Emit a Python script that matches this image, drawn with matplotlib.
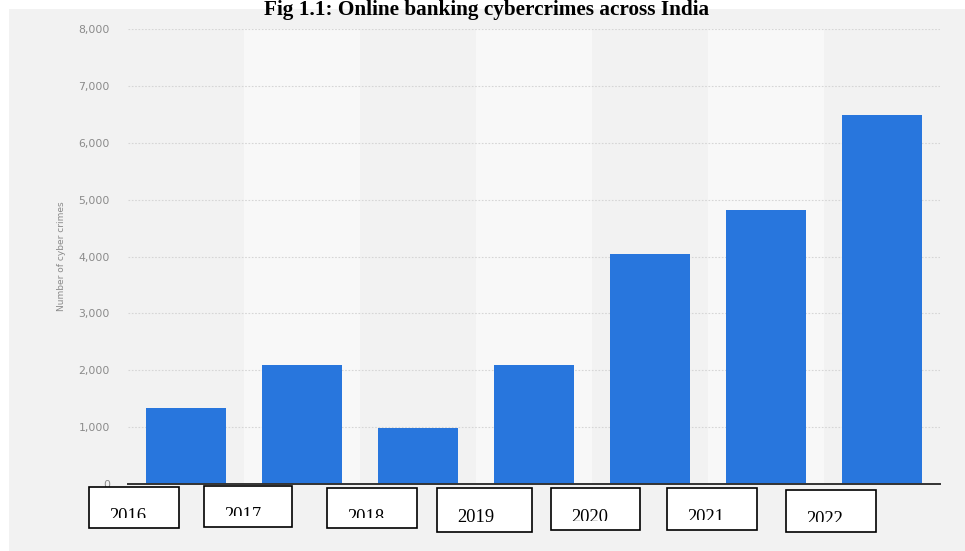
import matplotlib
matplotlib.use("Agg")
import matplotlib.pyplot as plt
from matplotlib.patches import Rectangle
from matplotlib.transforms import Bbox, TransformedBbox

years = ["2016", "2017", "2018", "2019", "2020", "2021", "2022"]
crimes = [1343, 2095, 978, 2093, 4047, 4823, 6491]
yticks = [0, 1000, 2000, 3000, 4000, 5000, 6000, 7000, 8000]
title = "Fig 1.1: Online banking cybercrimes across India"
ylabel = "Number of cyber crimes"

W, H = 965, 551
fig = plt.figure(figsize=(W / 100, H / 100), dpi=100)
fig.patch.set_facecolor("white")

def fx(x):
    return x / W

def fy(y):
    return 1 - y / H

# grey panel background
fig.patches.append(Rectangle((fx(9), 0), 1 - fx(9), fy(9), transform=fig.transFigure,
                             facecolor="#f2f2f2", edgecolor="none", zorder=-10))

ax = fig.add_axes([fx(128), fy(484), fx(940) - fx(128), fy(29) - fy(484)])
ax.set_zorder(1)
ax.set_facecolor("none")
ax.set_xlim(-0.5, len(years) - 0.5)
ax.set_ylim(0, 8000)

for i in range(len(years)):
    if i % 2 == 1:
        ax.axvspan(i - 0.5, i + 0.5, color="#f8f8f8", zorder=0, lw=0)

for t in yticks[1:]:
    ax.axhline(t, color="#d6d6d6", lw=0.8, ls=(0, (1.5, 1.5)), zorder=1)

ax.bar(range(len(years)), crimes, width=0.69, color="#2876dd", zorder=2)

for s in ["top", "right", "left"]:
    ax.spines[s].set_visible(False)
ax.spines["bottom"].set_color("#333333")
ax.spines["bottom"].set_linewidth(1.4)
ax.spines["bottom"].set_zorder(3)
ax.set_xticks([])
ax.set_yticks(yticks)
ax.set_yticklabels([f"{v:,}" for v in yticks], fontsize=7.8, color="#8a8a8a",
                   family="DejaVu Sans")
ax.tick_params(axis="y", length=0, pad=13)

fig.text(fx(62), fy(256), ylabel, rotation=90, ha="center", va="center",
         fontsize=6.5, color="#8a8a8a", family="DejaVu Sans")

fig.text(fx(487), fy(15), title, ha="center", va="baseline", fontsize=15.3,
         fontweight="bold", family="Liberation Serif", color="black", zorder=10)

# year label boxes: (left, top, right, bottom, text_clip_y)
boxes = [
    (89, 487, 179, 528, 518),
    (204, 486, 292, 527, 516),
    (327, 488, 417, 528, 518),
    (437, 488, 532, 532, 523),
    (551, 488, 640, 530, 521),
    (667, 488, 757, 530, 520),
    (786, 490, 876, 532, 522),
]
for (l, t, r, b, c), yr in zip(boxes, years):
    fig.patches.append(Rectangle((fx(l), fy(b)), fx(r) - fx(l), fy(t) - fy(b),
                                 transform=fig.transFigure, facecolor="white",
                                 edgecolor="black", lw=1.2, zorder=5))
    txt = fig.text(fx(l + 20), fy(t + 34), yr, ha="left", va="baseline",
                   fontsize=13.3, family="Liberation Serif", color="black", zorder=6)
    clip = TransformedBbox(Bbox([[fx(l), fy(c)], [fx(r), fy(t)]]), fig.transFigure)
    txt.set_clip_box(clip)

fig.savefig("out.png", dpi=100)
